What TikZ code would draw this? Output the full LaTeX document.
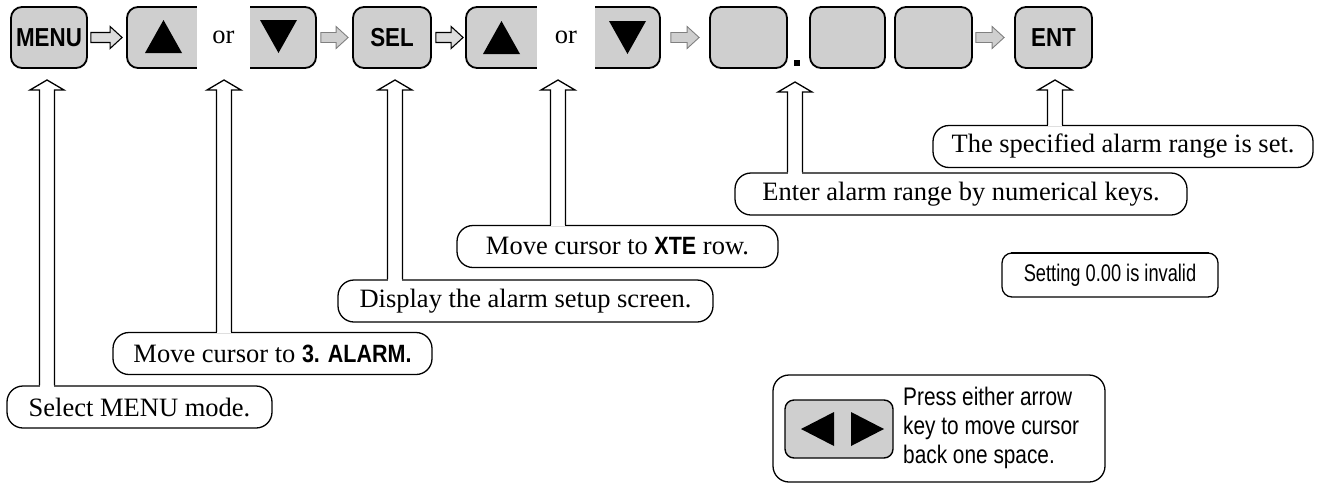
\documentclass[tikz,border=0pt]{standalone}
\usepackage{fontspec}
\setmainfont{Liberation Serif}
\newfontfamily\keyfont[FakeStretch=0.86]{Liberation Sans}
\newfontfamily\narrowsans[FakeStretch=0.82]{Liberation Sans}
\newfontfamily\notesans[FakeStretch=0.76]{Liberation Sans}
\usetikzlibrary{calc}

\definecolor{keygray}{gray}{0.81}
\definecolor{edgegray}{gray}{0.5}

\tikzset{
  keybox/.style={draw, line width=1.8pt, fill=keygray, rounded corners=11pt, inner sep=0pt},
  callout/.style={draw, line width=1.3pt, fill=white, rounded corners=16pt,
    minimum height=42pt, inner sep=0pt, font=\fontsize{26.5}{30}\selectfont},
  uparr/.style={draw, line width=1.3pt, line join=miter},
  solidarr/.style={draw, line width=1.1pt, fill=keygray!70, line join=miter},
  dotarr/.style={draw=edgegray, line width=0.9pt, fill=keygray, line join=miter},
  keylabel/.style={font=\keyfont\bfseries\fontsize{26}{28}\selectfont},
  ortext/.style={font=\fontsize{26.5}{30}\selectfont}
}

% block arrow pointing right, from coordinate #2 to coordinate #3
\newcommand\blockarrow[3][]{%
  \path[#1] ($(#2)+(0,-5)$) -- ($(#3)+(-12,-5)$) -- ($(#3)+(-12,-11)$) -- (#3)
    -- ($(#3)+(-12,11)$) -- ($(#3)+(-12,5)$) -- ($(#2)+(0,5)$) -- cycle;}

% hollow upward arrow from the top of callout #2 to tip #1
\newcommand\hollowup[2]{%
  \path (#1 |- #2.north) coordinate (hb);
  \fill[white] ($(hb)+(-6.8,1.6)$) rectangle ($(#1)+(6.8,10)$);
  \path[uparr] ($(hb)+(-7.5,0)$) -- ($(#1)+(-7.5,10)$) -- ($(#1)+(-17,10)$) -- (#1)
    -- ($(#1)+(17,10)$) -- ($(#1)+(7.5,10)$) -- ($(hb)+(7.5,0)$);}

\newcommand\boldsans[1]{{\keyfont\bfseries\fontsize{25}{28}\selectfont #1}}

\begin{document}
\begin{tikzpicture}[x=1pt,y=-1pt]
\useasboundingbox (0,0) rectangle (1324,485);

% ---- key row ----
\node[keybox, minimum width=76pt, minimum height=61pt] (menu) at (49,37.5) {};
\node[keylabel] at (menu) {MENU};

\node[keybox, minimum width=189pt, minimum height=61pt] (updown1) at (221.5,37.5) {};
\fill[white] (197,4) rectangle (250,71);
\node[ortext] (or1) at (223.5,37.5) {or};
\fill (145,53) -- (182,53) -- (163.5,20) -- cycle;
\fill (260,20) -- (297,20) -- (278.5,53) -- cycle;

\node[keybox, minimum width=78pt, minimum height=61pt] (sel) at (392,37.5) {};
\node[keylabel] at (sel) {SEL};

\node[keybox, minimum width=194pt, minimum height=61pt] (updown2) at (563,37.5) {};
\fill[white] (537,4) rectangle (595,71);
\node[ortext] (or2) at (566,37.5) {or};
\fill (483,54) -- (520,54) -- (501.5,21) -- cycle;
\fill (609,21) -- (646,21) -- (627.5,54) -- cycle;

\node[keybox, minimum width=77pt, minimum height=61pt] (digA) at (748.5,37.5) {};
\node[keybox, minimum width=75pt, minimum height=61pt] (digB) at (847.5,37.5) {};
\node[keybox, minimum width=77pt, minimum height=61pt] (digC) at (933.5,37.5) {};
\node[fill, minimum size=6pt, inner sep=0pt] (point) at (797,63) {};

\node[keybox, minimum width=77pt, minimum height=61pt] (ent) at (1053.5,37.5) {};
\node[keylabel] at (ent) {ENT};

% ---- arrows between keys ----
\blockarrow[solidarr]{$(menu.east)+(3,0)$}{$(updown1.west)+(-4,0)$}
\blockarrow[dotarr]{$(updown1.east)+(4,0)$}{$(sel.west)+(-4,0)$}
\blockarrow[solidarr]{$(sel.east)+(4,0)$}{$(updown2.west)+(-2,0)$}
\blockarrow[dotarr]{$(updown2.east)+(10,0)$}{$(digA.west)+(-10,0)$}
\blockarrow[dotarr]{$(digC.east)+(3,0)$}{$(ent.west)+(-10,0)$}

% ---- explanations ----
\node[callout, minimum width=380pt] (cF) at (1123,146.5) {The specified alarm range is set.};
\node[callout, minimum width=452pt] (cE) at (961,194) {Enter alarm range by numerical keys.};
\node[callout, minimum width=321pt] (cD) at (617.5,246.5) {Move cursor to \boldsans{XTE} row.};
\node[callout, minimum width=375pt] (cC) at (525.5,301) {Display the alarm setup screen.};
\node[callout, minimum width=319pt] (cB) at (272.5,353.5) {Move cursor to \boldsans{3. ALARM.}};
\node[callout, minimum width=265pt] (cA) at (139.5,407) {Select MENU mode.};

\coordinate (tA) at (47,80);
\coordinate (tB) at (224,80);
\coordinate (tC) at (395,80);
\coordinate (tD) at (558,80);
\coordinate (tE) at (795,82);
\coordinate (tF) at (1055,80);
\hollowup{tA}{cA}
\hollowup{tB}{cB}
\hollowup{tC}{cC}
\hollowup{tD}{cD}
\hollowup{tE}{cE}
\hollowup{tF}{cF}

% ---- notes ----
\node[draw, line width=1.3pt, rounded corners=10pt, minimum width=216pt, minimum height=44pt,
  inner sep=0pt, font=\notesans\fontsize{24}{28}\selectfont] (invalid) at (1110,275) {Setting 0.00 is invalid};
\draw[line width=2.6pt] ($(invalid.north west)+(10,0.6)$) -- ($(invalid.north east)+(-10,0.6)$);

\node[draw, line width=1.3pt, rounded corners=16pt, minimum width=332pt, minimum height=107pt,
  inner sep=0pt] (backnote) at (939,428.5) {};
\node[keybox, line width=1.4pt, rounded corners=9pt, minimum width=108pt, minimum height=58pt] (lrkeys) at (839,429) {};
\fill (801,429) -- (834,412) -- (834,446) -- cycle;
\fill (884,429) -- (851,412) -- (851,446) -- cycle;
\node[anchor=west, align=left, inner sep=0pt,
  font=\narrowsans\fontsize{25.4}{29}\selectfont] (backtext) at (903,428) {Press either arrow\\key to move cursor\\back one space.};
\end{tikzpicture}
\end{document}
